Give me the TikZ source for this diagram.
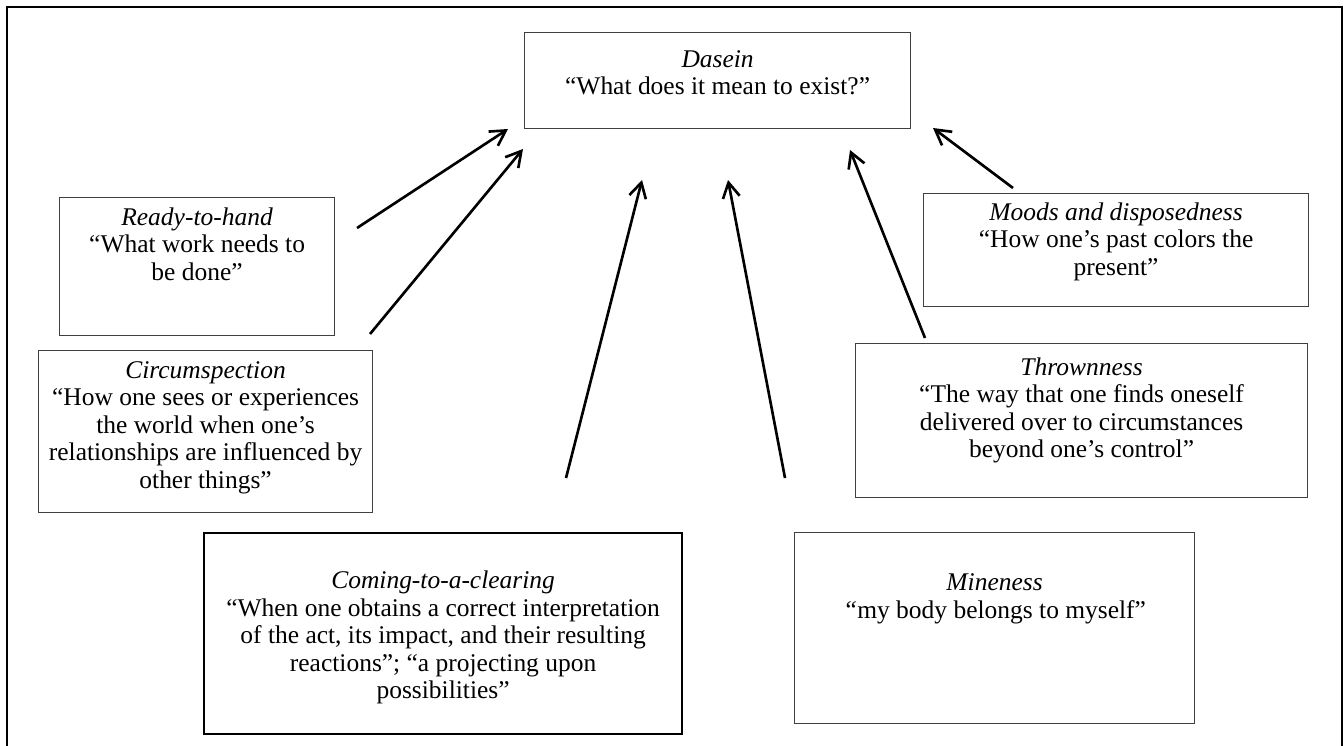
\documentclass[tikz,border=0pt]{standalone}
\usepackage{fontspec}
\setmainfont{Liberation Serif}
\usetikzlibrary{arrows.meta}

\newcommand{\cardbody}[4]{\parbox[c][#2][t]{#1}{\vspace*{#3}\centering\strut#4}}

\tikzset{
  card/.style={draw=black!75, line width=0.7pt, inner sep=0pt, anchor=north west},
  thickcard/.style={card, draw=black, line width=1.3pt},
  pointer/.style={-{Straight Barb[length=0.3cm,width=0.34cm]}, line width=1.5pt},
}

\begin{document}
\begin{tikzpicture}[x=0.02cm, y=-0.02cm, font=\fontsize{14.5}{15.65}\selectfont]
  \useasboundingbox (0,0) rectangle (1344,746);
  \draw[line width=1.2pt] (7,746) -- (7,7) -- (1342,7) -- (1342,746);

  % boxes
  \node[card] (dasein) at (524,32) {\cardbody{7.72cm}{1.92cm}{0.31cm}{\textit{Dasein}\\“What does it mean to exist?”}};
  \node[card] (ready) at (59,197) {\cardbody{5.5cm}{2.76cm}{0.17cm}{\textit{Ready-to-hand}\\“What work needs to\\be done”}};
  \node[card] (circum) at (38,350) {\cardbody{6.68cm}{3.24cm}{0.17cm}{\textit{Circumspection}\\“How one sees or experiences\\the world when one’s\\relationships are influenced by\\other things”}};
  \node[thickcard] (clearing) at (203,532) {\cardbody{9.56cm}{4.02cm}{0.73cm}{\textit{Coming-to-a-clearing}\\“When one obtains a correct interpretation\\of the act, its impact, and their resulting\\reactions”; “a projecting upon\\possibilities”}};
  \node[card] (mine) at (794,532) {\cardbody{8cm}{3.82cm}{0.78cm}{\textit{Mineness}\\\textit{“}my body belongs to myself”}};
  \node[card] (thrown) at (855,343) {\cardbody{9.04cm}{3.08cm}{0.25cm}{\textit{Thrownness}\\“The way that one finds oneself\\delivered over to circumstances\\beyond one’s control”}};
  \node[card] (moods) at (923,193) {\cardbody{7.7cm}{2.26cm}{0.15cm}{\textit{Moods and disposedness}\\“How one’s past colors the\\present”}};

  % arrow ends
  \coordinate (readyT) at (357,228);   \coordinate (readyH) at (508,129);
  \coordinate (circumT) at (370,334);  \coordinate (circumH) at (523,149);
  \coordinate (clearT) at (566,478);   \coordinate (clearH) at (642,180);
  \coordinate (mineT) at (785,478);    \coordinate (mineH) at (728,180);
  \coordinate (thrownT) at (925,338);  \coordinate (thrownH) at (850,150);
  \coordinate (moodsT) at (1013,188);  \coordinate (moodsH) at (933,128);

  \draw[pointer] (readyT) -- (readyH);
  \draw[pointer] (circumT) -- (circumH);
  \draw[pointer] (clearT) -- (clearH);
  \draw[pointer] (mineT) -- (mineH);
  \draw[pointer] (thrownT) -- (thrownH);
  \draw[pointer] (moodsT) -- (moodsH);
\end{tikzpicture}
\end{document}
